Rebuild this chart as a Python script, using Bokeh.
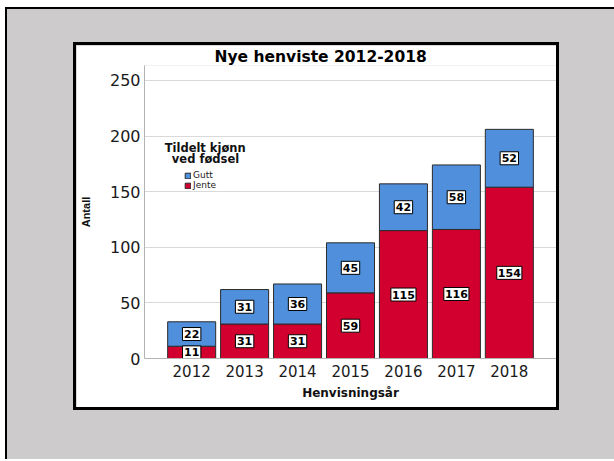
from bokeh.plotting import figure
from bokeh.models import (ColumnDataSource, Range1d, FixedTicker, Label,
                          Legend, LegendItem, Spacer)
from bokeh.layouts import column, row
from bokeh.core.properties import value
from bokeh.embed import file_html
from bokeh.resources import INLINE

# ---- data ----
years = ["2012", "2013", "2014", "2015", "2016", "2017", "2018"]
jente = [11, 31, 31, 59, 115, 116, 154]
gutt = [22, 31, 36, 45, 42, 58, 52]
y_ticks = [0, 50, 100, 150, 200, 250]
title_text = "Nye henviste 2012-2018"
x_label = "Henvisningsår"
y_label = "Antall"
legend_title = ["Tildelt kjønn", "ved fødsel"]
series_names = ["Jente", "Gutt"]

BLUE = "#4F8FDB"
RED = "#D2002E"
GRAY_BG = "#CDCBCB"
FONT = "DejaVu Sans"

xs = list(range(len(years)))
src = ColumnDataSource(dict(x=xs, Jente=jente, Gutt=gutt))

p = figure(width=486, height=368, output_backend="svg", toolbar_location=None,
           x_range=Range1d(-0.891, 6.891), y_range=Range1d(0, 263.4),
           min_border_left=65, min_border_right=6,
           min_border_top=18, min_border_bottom=55)
p.border_fill_color = "white"
p.background_fill_color = "white"
p.outline_line_color = None
p.styles = {"border": "3px solid black"}

# bars
rs = p.vbar_stack(series_names, x="x", width=0.907, source=src,
                  fill_color=[RED, BLUE], line_color="#2B2B2B", line_width=1)

# axes
p.xaxis.ticker = FixedTicker(ticks=xs)
p.xaxis.major_label_overrides = {i: yr for i, yr in enumerate(years)}
p.yaxis.ticker = FixedTicker(ticks=y_ticks)
p.xgrid.visible = False
p.ygrid.grid_line_color = "#D9D9D9"
p.ygrid.grid_line_width = 1
for ax in (p.xaxis, p.yaxis):
    ax.major_tick_line_color = None
    ax.minor_tick_line_color = None
    ax.major_tick_out = 0
    ax.major_tick_in = 0
    ax.axis_line_color = "#B4B4B4"
    ax.axis_line_width = 1
    ax.major_label_text_font = FONT
    ax.major_label_text_color = "#1A1A1A"
p.xaxis.major_label_text_font_size = "15px"
p.yaxis.major_label_text_font_size = "16px"
p.xaxis.major_label_standoff = 6
p.yaxis.major_label_standoff = 4

p.xaxis.axis_label = x_label
p.xaxis.axis_label_text_font = FONT
p.xaxis.axis_label_text_font_style = "bold"
p.xaxis.axis_label_text_font_size = "12px"
p.xaxis.axis_label_text_color = "#111111"
p.xaxis.axis_label_standoff = 6

p.yaxis.axis_label = y_label
p.yaxis.axis_label_text_font = "Liberation Sans"
p.yaxis.axis_label_text_font_style = "bold"
p.yaxis.axis_label_text_font_size = "11px"
p.yaxis.axis_label_text_color = "#111111"
p.yaxis.axis_label_standoff = 15

# chart title
p.title.text = title_text
p.title.align = "left"
p.title.offset = 70
p.title.standoff = 0
p.title.text_font = FONT
p.title.text_font_style = "bold"
p.title.text_font_size = "15.5px"
p.title.text_color = "black"

# value labels on segments
lab_x, lab_y, lab_t, lab_w = [], [], [], []
for i in xs:
    for v, mid in ((jente[i], jente[i] / 2), (gutt[i], jente[i] + gutt[i] / 2)):
        lab_x.append(i)
        lab_y.append(mid)
        lab_t.append(str(v))
        lab_w.append(5 + 6.7 * len(str(v)))
lab_src = ColumnDataSource(dict(x=lab_x, y=lab_y, t=lab_t, w=lab_w))
p.rect(x="x", y="y", width="w", height=13, width_units="screen",
       height_units="screen", source=lab_src, fill_color="white",
       line_color="black", line_width=1)
p.text(x="x", y="y", text="t", source=lab_src,
       text_font=value(FONT), text_font_style="bold", text_font_size="11px",
       text_color="black", text_align="center", text_baseline="middle")

# legend
legend = Legend(items=[LegendItem(label=series_names[1], renderers=[rs[1]]),
                       LegendItem(label=series_names[0], renderers=[rs[0]])],
                location=(40, 168), orientation="vertical",
                padding=0, margin=0, spacing=0,
                glyph_width=7, glyph_height=7, label_height=7, label_standoff=2,
                label_text_font=FONT, label_text_font_size="9px",
                label_text_color="#222222",
                border_line_color=None, background_fill_alpha=0)
p.add_layout(legend)

p.add_layout(Label(x=60.7, y=210.7, x_units="screen", y_units="screen",
                   text=legend_title[0], text_align="center",
                   text_baseline="alphabetic", text_font=FONT,
                   text_font_style="bold", text_font_size="11.5px",
                   text_color="#111111"))
p.add_layout(Label(x=61, y=200, x_units="screen", y_units="screen",
                   text=legend_title[1], text_align="center",
                   text_baseline="alphabetic", text_font=FONT,
                   text_font_style="bold", text_font_size="11.5px",
                   text_color="#111111"))

# page layout: grey panel, black left/top edges drawn by thin spacers
gray_panel = column(Spacer(width=10, height=33),
                    row(Spacer(width=66, height=10), p),
                    width=607, height=450,
                    styles={"background-color": GRAY_BG})
top_edge = Spacer(width=609, height=2, styles={"background-color": "black"})
left_edge = Spacer(width=2, height=450, styles={"background-color": "black"})
framed = column(top_edge, row(left_edge, gray_panel))
page = column(Spacer(width=10, height=7),
              row(Spacer(width=5, height=10), framed))

open("out.html", "w").write(file_html(page, INLINE))
